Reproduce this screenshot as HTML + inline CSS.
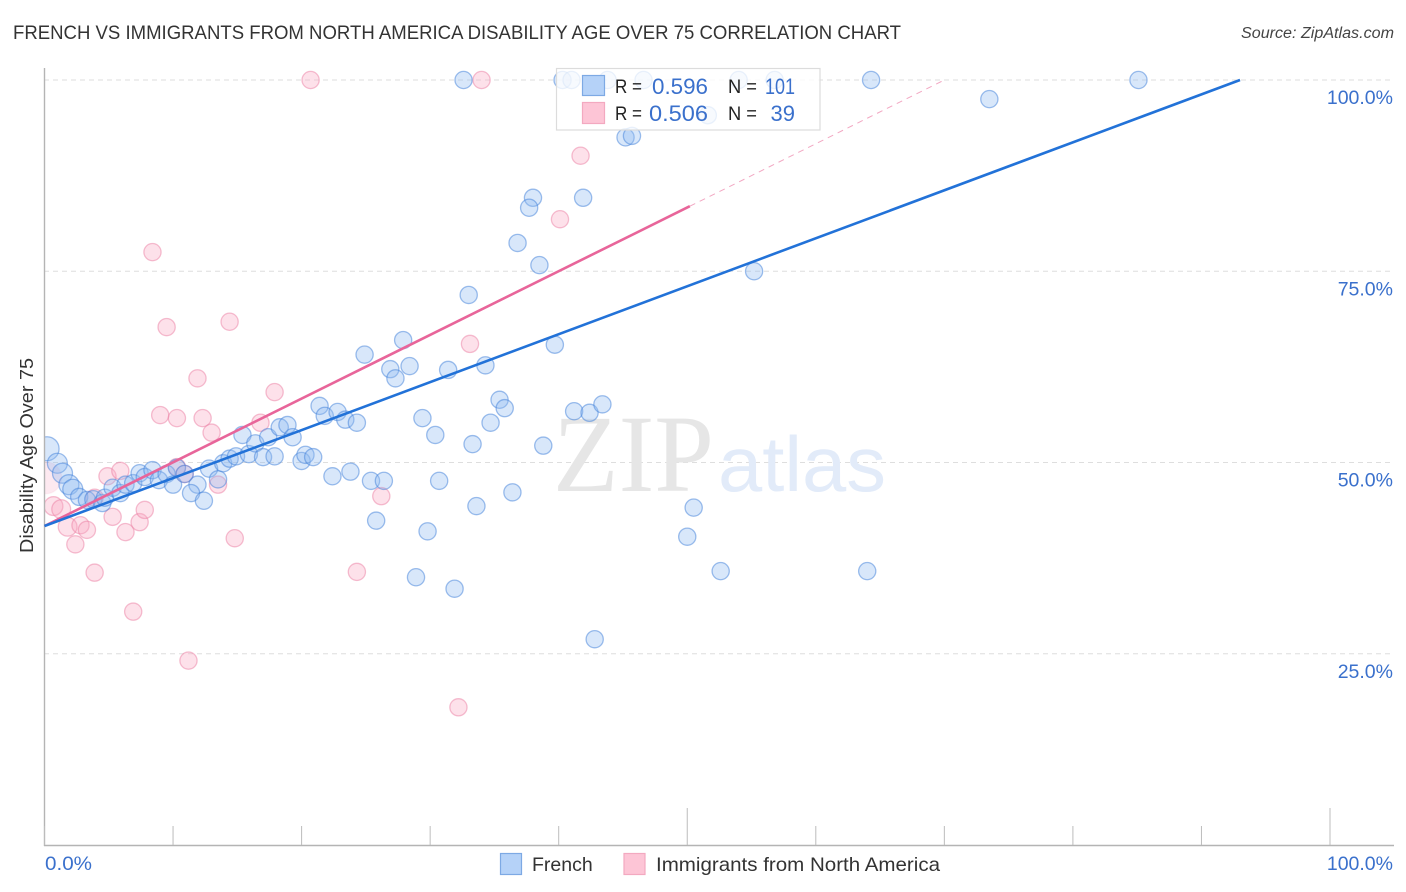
<!DOCTYPE html>
<html>
<head>
<meta charset="utf-8">
<title>French vs Immigrants from North America Disability Age Over 75 Correlation Chart</title>
<style>
html,body{margin:0;padding:0;background:#fff;}
svg{display:block;font-family:"Liberation Sans",sans-serif;}
</style>
</head>
<body>
<svg id="chart" width="1406" height="892" viewBox="0 0 1406 892" xmlns="http://www.w3.org/2000/svg">
  <defs><clipPath id="plot-clip"><rect x="45" y="60" width="1349" height="785"/></clipPath></defs>
  <text x="13" y="39" font-size="19" fill="#333" textLength="888" lengthAdjust="spacingAndGlyphs">FRENCH VS IMMIGRANTS FROM NORTH AMERICA DISABILITY AGE OVER 75 CORRELATION CHART</text>
  <text x="1394" y="38" font-size="15.5" font-style="italic" fill="#444" text-anchor="end" textLength="153" lengthAdjust="spacingAndGlyphs">Source: ZipAtlas.com</text>
  <g id="grid"></g>
  <g>
    <text x="553" y="491" font-family="'Liberation Serif',serif" font-size="110" fill="#e6e6e6" textLength="161" lengthAdjust="spacingAndGlyphs">ZIP</text>
    <text x="718" y="491" font-size="78" fill="#e2ebf9" textLength="168" lengthAdjust="spacingAndGlyphs">atlas</text>
  </g>
  <g id="points" clip-path="url(#plot-clip)"></g>
  <rect x="0" y="60" width="44" height="785" fill="#fff"/>
  <g id="axes"></g>
  <g id="trends"></g>
  <text transform="translate(33,455.5) rotate(-90)" font-size="18.5" fill="#333" text-anchor="middle" textLength="195" lengthAdjust="spacingAndGlyphs">Disability Age Over 75</text>
  <g id="labels"></g>

  <g>
    <rect x="556.5" y="68.5" width="263.5" height="61.5" fill="#fff" fill-opacity="0.78" stroke="#dcdcdc" stroke-width="1.2"/>
    <rect x="582.5" y="75.5" width="22" height="20" fill="#b5d2f8" stroke="#7da9e4" stroke-width="1.2"/>
    <rect x="582.5" y="102.5" width="22" height="21" fill="#fdc5d6" stroke="#f3a9c0" stroke-width="1.2"/>
    <text x="615" y="93" font-size="19" fill="#222" textLength="27" lengthAdjust="spacingAndGlyphs">R =</text>
    <text x="652" y="94" font-size="22" fill="#3a70cc" textLength="56" lengthAdjust="spacingAndGlyphs">0.596</text>
    <text x="728" y="93" font-size="19" fill="#222" textLength="29" lengthAdjust="spacingAndGlyphs">N =</text>
    <text x="765" y="94" font-size="22" fill="#3a70cc" textLength="30" lengthAdjust="spacingAndGlyphs">101</text>
    <text x="615" y="120" font-size="19" fill="#222" textLength="27" lengthAdjust="spacingAndGlyphs">R =</text>
    <text x="649" y="121" font-size="22" fill="#3a70cc" textLength="59" lengthAdjust="spacingAndGlyphs">0.506</text>
    <text x="728" y="120" font-size="19" fill="#222" textLength="29" lengthAdjust="spacingAndGlyphs">N =</text>
    <text x="795" y="121" font-size="22" fill="#3a70cc" text-anchor="end">39</text>
  </g>

  <g>
    <rect x="500.5" y="853.5" width="21" height="21" fill="#b5d2f8" stroke="#7da9e4" stroke-width="1.2"/>
    <text x="532" y="871" font-size="19.5" fill="#333">French</text>
    <rect x="624" y="853.5" width="21" height="21" fill="#fdc5d6" stroke="#f3a9c0" stroke-width="1.2"/>
    <text x="656" y="871" font-size="19.5" fill="#333" textLength="284" lengthAdjust="spacingAndGlyphs">Immigrants from North America</text>
  </g>
</svg>
<script>
const frenchX = [32.6,40.3,41,43.8,46.6,54,56.8,64.3,85.1,73.5,51.6,45.2,45.7,38,37.7,41.9,36.8,38.5,33,55.2,27.9,24.9,39.7,26.9,28.4,27.3,31.4,34.3,35.4,35.8,41.2,42.4,43.4,29.4,34.7,21.4,21.8,22.8,23.4,24.3,30.4,33.3,38.8,0.2,1,1.4,1.9,2.2,2.7,3.3,3.8,4.5,4.7,5.3,5.9,6.3,6.9,7.4,7.8,8.4,8.9,9.5,10,10.3,10.9,11.9,11.4,12.4,12.8,13.5,13.9,14.4,14.9,15.4,15.9,16.4,17,17.4,17.9,18.3,18.9,19.3,20,20.3,20.9,22.4,23.8,25.4,26.4,30.7,36.4,33.6,25.8,29.8,28.9,31.9,42.8,50.5,50,52.6,64];
const frenchY = [100,100,100,100,100,100,100,100,100,97.5,95.4,92.5,92.7,84.6,83.3,84.6,78.7,75.8,71.9,75,66,64.1,65.4,62.2,62.6,61,62.1,62.7,58.2,57.1,56.7,56.5,57.6,55.8,55.2,57.4,56.1,56.6,55.6,55.2,53.6,52.4,52.2,51.8,49.9,48.6,47.1,46.5,45.5,45.1,45.2,44.7,45.4,46.7,46,47.1,47.3,48.6,48.1,49,47.7,48.5,47.1,49.3,48.5,47.1,46,45,49.2,47.8,49.9,50.5,50.8,53.6,51.1,52.5,50.7,53.3,50.8,54.6,54.9,53.3,50.2,51,50.7,48.2,48.8,47.6,47.6,47.6,46.1,44.3,42.4,41,35,33.5,26.9,44.1,40.3,35.8,35.8];
const immigrantsX = [20.7,34,41.7,40.1,8.4,9.5,14.4,11.9,33.1,17.9,9,10.3,12.3,13,16.8,0.1,0.7,1.3,1.8,2.8,3.3,2.4,3.9,5.3,6.3,7.4,7.8,4.9,5.9,14.8,13.5,3.9,10.9,10.3,6.9,11.2,24.3,26.2,32.2];
const immigrantsY = [100,100,90.1,81.8,77.5,67.7,68.4,61,65.5,59.2,56.2,55.8,55.8,53.9,55.2,48,44.3,43.9,41.6,41.8,41.2,39.3,35.6,42.9,40.9,42.2,43.8,48.2,48.9,40.1,47.1,45.4,48.5,49.4,30.5,24.1,35.7,45.6,18];
const frenchTrendX = [0,93];
const frenchTrendY = [41.7,100];
const immigrantsTrendX = [0,50.2];
const immigrantsTrendY = [41.7,83.5];
const immigrantsDashX = [50.2,70];
const immigrantsDashY = [83.5,100];
const yTicks = [100,75,50,25];
const yTickLabels = ['100.0%','75.0%','50.0%','25.0%'];
const xTicks = [0,10,20,30,40,50,60,70,80,90,100];
const xMajorTicks = [50,100];
const xEndLabels = ['0.0%','100.0%'];

const NS = 'http://www.w3.org/2000/svg';
const xScale = v => 44.5 + v * 12.855;
const yScale = v => 845 - v * 7.65;
function make(parent, tag, attrs) {
  const el = document.createElementNS(NS, tag);
  Object.keys(attrs).forEach(k => el.setAttribute(k, attrs[k]));
  parent.appendChild(el);
  return el;
}
const grid = document.getElementById('grid');
const axes = document.getElementById('axes');
const points = document.getElementById('points');
const trends = document.getElementById('trends');
const labels = document.getElementById('labels');

yTicks.forEach((t, i) => {
  const line = make(grid, 'line', {x1: 44, x2: 1393, y1: yScale(t), y2: yScale(t), stroke: '#dedede', 'stroke-width': 1, 'stroke-dasharray': '5 4'});
  
  
  const lab = make(labels, 'text', {x: 1393, y: yScale(t) + 24, 'font-size': 19.5, fill: '#3a70cc', 'text-anchor': 'end'});
  lab.textContent = yTickLabels[i];
  
  
});

const yAxis = make(axes, 'line', {x1: 44.5, x2: 44.5, y1: 68, y2: 846, stroke: '#b4b4b4', 'stroke-width': 1.4});


const xAxis = make(axes, 'line', {x1: 44, x2: 1394, y1: 845.5, y2: 845.5, stroke: '#b4b4b4', 'stroke-width': 1.4});


xTicks.forEach(t => {
  const top = xMajorTicks.includes(t) ? 808 : 826;
  const tick = make(axes, 'line', {x1: xScale(t), x2: xScale(t), y1: top, y2: 845, stroke: '#bcbcbc', 'stroke-width': 1});
  
  
});
const xStart = make(labels, 'text', {x: 45, y: 870, 'font-size': 19.5, fill: '#3a70cc', textLength: 47, lengthAdjust: 'spacingAndGlyphs'});
xStart.textContent = xEndLabels[0];


const xEnd = make(labels, 'text', {x: 1393, y: 870, 'font-size': 19.5, fill: '#3a70cc', 'text-anchor': 'end'});
xEnd.textContent = xEndLabels[1];



immigrantsX.forEach((x, i) => {
  const dot = make(points, 'circle', {cx: xScale(x), cy: yScale(immigrantsY[i]), r: x < 0.5 ? 16 : (x < 2 ? 9.4 : 8.6), fill: '#f9a8c2', 'fill-opacity': x < 0.5 ? 0.25 : 0.34, stroke: '#ec7fa3', 'stroke-opacity': x < 0.5 ? 0.08 : 0.5, 'stroke-width': 1.3});
  
  
});
frenchX.forEach((x, i) => {
  const dot = make(points, 'circle', {cx: xScale(x), cy: yScale(frenchY[i]), r: x < 0.5 ? 12 : (x < 2.5 ? 10 : 8.6), fill: '#8fb9f0', 'fill-opacity': 0.35, stroke: '#3f80da', 'stroke-opacity': 0.5, 'stroke-width': 1.3});
  
  
});

const dashLine = make(trends, 'line', {x1: xScale(immigrantsDashX[0]), y1: yScale(immigrantsDashY[0]), x2: xScale(immigrantsDashX[1]), y2: yScale(immigrantsDashY[1]), stroke: '#ea6d9a', 'stroke-opacity': 0.6, 'stroke-width': 1, 'stroke-dasharray': '6 5'});


const pinkLine = make(trends, 'line', {x1: xScale(immigrantsTrendX[0]), y1: yScale(immigrantsTrendY[0]), x2: xScale(immigrantsTrendX[1]), y2: yScale(immigrantsTrendY[1]), stroke: '#e8659a', 'stroke-width': 2.6});


const blueLine = make(trends, 'line', {x1: xScale(frenchTrendX[0]), y1: yScale(frenchTrendY[0]), x2: xScale(frenchTrendX[1]), y2: yScale(frenchTrendY[1]), stroke: '#2272d8', 'stroke-width': 2.6});


</script>
</body>
</html>
